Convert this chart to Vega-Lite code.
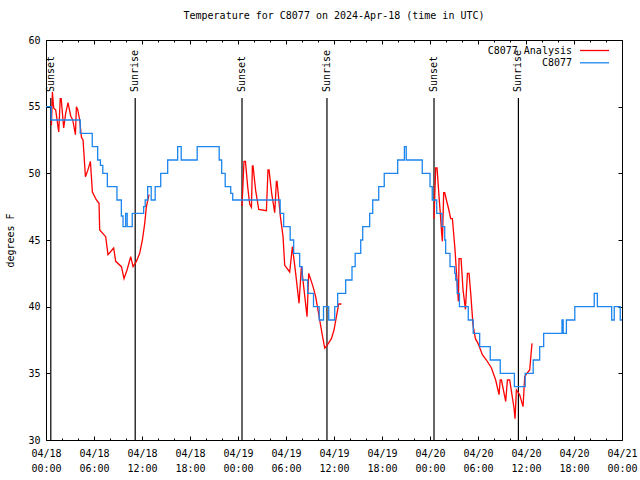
{
  "$schema": "https://vega.github.io/schema/vega-lite/v6.json",
  "autosize": {"type": "none"},
  "width": 576,
  "height": 400,
  "padding": {"left": 46, "top": 40, "right": 18, "bottom": 40},
  "title": {"text": "Temperature for C8077 on 2024-Apr-18 (time in UTC)", "font": "DejaVu Sans Mono", "fontSize": 10, "fontWeight": "normal", "offset": 14, "color": "black"},
  "config": {
    "font": "DejaVu Sans Mono",
    "view": {"stroke": "black", "strokeWidth": 1},
    "axis": {"grid": false, "domain": false, "tickColor": "black", "labelColor": "black", "labelFont": "DejaVu Sans Mono", "labelFontSize": 10, "titleFont": "DejaVu Sans Mono", "titleFontSize": 10, "titleFontWeight": "normal", "titleColor": "black", "labelOverlap": false, "labelFlush": false, "labelBound": false},
    "legend": {"title": null, "orient": "none", "legendX": 533, "symbolType": "stroke", "symbolSize": 841, "symbolStrokeWidth": 1.3, "labelAlign": "right", "labelOffset": -38, "labelFont": "DejaVu Sans Mono", "labelFontSize": 10, "labelColor": "black", "padding": 0}
  },
  "datasets": {
    "events": [
      {"hour": 0.6, "label": "Sunset"},
      {"hour": 11.15, "label": "Sunrise"},
      {"hour": 24.5, "label": "Sunset"},
      {"hour": 35.12, "label": "Sunrise"},
      {"hour": 48.5, "label": "Sunset"},
      {"hour": 59.05, "label": "Sunrise"}
    ],
    "analysis": [
      {"seg": 1, "hour": 0.68, "temp": 53.6}, {"seg": 1, "hour": 0.8, "temp": 56.1}, {"seg": 1, "hour": 0.96, "temp": 54.9}, {"seg": 1, "hour": 1.21, "temp": 54.75}, {"seg": 1, "hour": 1.59, "temp": 53.1}, {"seg": 1, "hour": 1.78, "temp": 55.6}, {"seg": 1, "hour": 1.9, "temp": 55.6}, {"seg": 1, "hour": 2.21, "temp": 53.4}, {"seg": 1, "hour": 2.46, "temp": 54.5}, {"seg": 1, "hour": 2.75, "temp": 55.3}, {"seg": 1, "hour": 3.09, "temp": 54.3}, {"seg": 1, "hour": 3.34, "temp": 54.0}, {"seg": 1, "hour": 3.68, "temp": 52.9}, {"seg": 1, "hour": 3.8, "temp": 55.0}, {"seg": 1, "hour": 3.96, "temp": 54.8}, {"seg": 1, "hour": 4.21, "temp": 54.0}, {"seg": 1, "hour": 4.43, "temp": 52.7}, {"seg": 1, "hour": 4.63, "temp": 52.5}, {"seg": 1, "hour": 4.93, "temp": 49.75}, {"seg": 1, "hour": 5.21, "temp": 50.2}, {"seg": 1, "hour": 5.55, "temp": 50.9}, {"seg": 1, "hour": 5.8, "temp": 48.6}, {"seg": 1, "hour": 6.3, "temp": 48.0}, {"seg": 1, "hour": 6.63, "temp": 47.75}, {"seg": 1, "hour": 6.71, "temp": 45.75}, {"seg": 1, "hour": 7.46, "temp": 45.25}, {"seg": 1, "hour": 7.75, "temp": 43.9}, {"seg": 1, "hour": 8.46, "temp": 44.4}, {"seg": 1, "hour": 8.71, "temp": 43.4}, {"seg": 1, "hour": 9.43, "temp": 43.0}, {"seg": 1, "hour": 9.75, "temp": 42.1}, {"seg": 1, "hour": 10.13, "temp": 42.75}, {"seg": 1, "hour": 10.59, "temp": 43.75}, {"seg": 1, "hour": 10.88, "temp": 43.0}, {"seg": 1, "hour": 11.3, "temp": 43.4}, {"seg": 1, "hour": 11.71, "temp": 44.0}, {"seg": 1, "hour": 12.05, "temp": 45.0}, {"seg": 1, "hour": 12.34, "temp": 46.25}, {"seg": 1, "hour": 12.55, "temp": 47.5}, {"seg": 1, "hour": 12.88, "temp": 48.4},
      {"seg": 2, "hour": 24.5, "temp": 47.55}, {"seg": 2, "hour": 24.75, "temp": 50.9}, {"seg": 2, "hour": 24.93, "temp": 50.9}, {"seg": 2, "hour": 25.21, "temp": 49.0}, {"seg": 2, "hour": 25.46, "temp": 47.7}, {"seg": 2, "hour": 25.68, "temp": 47.45}, {"seg": 2, "hour": 25.8, "temp": 50.55}, {"seg": 2, "hour": 25.88, "temp": 50.55}, {"seg": 2, "hour": 26.21, "temp": 48.7}, {"seg": 2, "hour": 26.59, "temp": 47.3}, {"seg": 2, "hour": 27.55, "temp": 47.2}, {"seg": 2, "hour": 27.75, "temp": 50.25}, {"seg": 2, "hour": 27.88, "temp": 50.25}, {"seg": 2, "hour": 28.21, "temp": 48.5}, {"seg": 2, "hour": 28.59, "temp": 47.05}, {"seg": 2, "hour": 28.8, "temp": 49.4}, {"seg": 2, "hour": 28.88, "temp": 49.4}, {"seg": 2, "hour": 29.3, "temp": 46.75}, {"seg": 2, "hour": 29.63, "temp": 45.25}, {"seg": 2, "hour": 29.84, "temp": 43.1}, {"seg": 2, "hour": 30.46, "temp": 42.6}, {"seg": 2, "hour": 30.8, "temp": 44.5}, {"seg": 2, "hour": 31.21, "temp": 42.5}, {"seg": 2, "hour": 31.63, "temp": 40.25}, {"seg": 2, "hour": 31.93, "temp": 43.05}, {"seg": 2, "hour": 32.21, "temp": 41.5}, {"seg": 2, "hour": 32.63, "temp": 39.25}, {"seg": 2, "hour": 32.84, "temp": 42.5}, {"seg": 2, "hour": 33.38, "temp": 41.5}, {"seg": 2, "hour": 33.71, "temp": 40.75}, {"seg": 2, "hour": 34.21, "temp": 39.0}, {"seg": 2, "hour": 34.5, "temp": 38.0}, {"seg": 2, "hour": 34.84, "temp": 36.9}, {"seg": 2, "hour": 35.13, "temp": 37.1}, {"seg": 2, "hour": 35.68, "temp": 37.6}, {"seg": 2, "hour": 36.0, "temp": 38.25}, {"seg": 2, "hour": 36.3, "temp": 39.25}, {"seg": 2, "hour": 36.59, "temp": 40.2}, {"seg": 2, "hour": 36.93, "temp": 40.2},
      {"seg": 3, "hour": 48.5, "temp": 46.6}, {"seg": 3, "hour": 48.71, "temp": 50.4}, {"seg": 3, "hour": 48.88, "temp": 50.4}, {"seg": 3, "hour": 49.13, "temp": 48.25}, {"seg": 3, "hour": 49.3, "temp": 46.9}, {"seg": 3, "hour": 49.46, "temp": 45.5}, {"seg": 3, "hour": 49.55, "temp": 44.9}, {"seg": 3, "hour": 49.71, "temp": 48.55}, {"seg": 3, "hour": 49.84, "temp": 48.55}, {"seg": 3, "hour": 50.05, "temp": 48.0}, {"seg": 3, "hour": 50.3, "temp": 47.4}, {"seg": 3, "hour": 50.59, "temp": 46.6}, {"seg": 3, "hour": 50.8, "temp": 46.6}, {"seg": 3, "hour": 51.13, "temp": 44.25}, {"seg": 3, "hour": 51.43, "temp": 41.4}, {"seg": 3, "hour": 51.55, "temp": 40.4}, {"seg": 3, "hour": 51.63, "temp": 43.6}, {"seg": 3, "hour": 51.88, "temp": 43.6}, {"seg": 3, "hour": 52.13, "temp": 41.25}, {"seg": 3, "hour": 52.43, "temp": 39.8}, {"seg": 3, "hour": 52.68, "temp": 42.5}, {"seg": 3, "hour": 52.88, "temp": 42.5}, {"seg": 3, "hour": 53.09, "temp": 41.0}, {"seg": 3, "hour": 53.38, "temp": 38.6}, {"seg": 3, "hour": 53.68, "temp": 37.6}, {"seg": 3, "hour": 54.0, "temp": 37.25}, {"seg": 3, "hour": 54.55, "temp": 36.4}, {"seg": 3, "hour": 55.05, "temp": 36.0}, {"seg": 3, "hour": 55.68, "temp": 35.4}, {"seg": 3, "hour": 56.21, "temp": 34.5}, {"seg": 3, "hour": 56.63, "temp": 33.4}, {"seg": 3, "hour": 56.78, "temp": 34.5}, {"seg": 3, "hour": 56.93, "temp": 34.5}, {"seg": 3, "hour": 57.46, "temp": 32.9}, {"seg": 3, "hour": 57.68, "temp": 34.5}, {"seg": 3, "hour": 57.96, "temp": 34.5}, {"seg": 3, "hour": 58.5, "temp": 32.4}, {"seg": 3, "hour": 58.63, "temp": 31.6}, {"seg": 3, "hour": 58.8, "temp": 33.75}, {"seg": 3, "hour": 59.21, "temp": 33.4}, {"seg": 3, "hour": 59.63, "temp": 32.5}, {"seg": 3, "hour": 59.84, "temp": 34.75}, {"seg": 3, "hour": 60.25, "temp": 35.1}, {"seg": 3, "hour": 60.46, "temp": 35.25}, {"seg": 3, "hour": 60.75, "temp": 37.25}
    ],
    "obs": [
      {"hour": 0, "temp": 55}, {"hour": 0.65, "temp": 54}, {"hour": 4.28, "temp": 53}, {"hour": 5.78, "temp": 52}, {"hour": 6.46, "temp": 51}, {"hour": 6.8, "temp": 50.6}, {"hour": 7.1, "temp": 50}, {"hour": 7.67, "temp": 49}, {"hour": 8.87, "temp": 48}, {"hour": 9.42, "temp": 46.8}, {"hour": 9.63, "temp": 46}, {"hour": 9.96, "temp": 47}, {"hour": 10.15, "temp": 46}, {"hour": 10.78, "temp": 47}, {"hour": 12.21, "temp": 47.5}, {"hour": 12.4, "temp": 48}, {"hour": 12.71, "temp": 49}, {"hour": 13.15, "temp": 48}, {"hour": 13.65, "temp": 49}, {"hour": 14.34, "temp": 50}, {"hour": 15.21, "temp": 51}, {"hour": 16.46, "temp": 52}, {"hour": 16.9, "temp": 51}, {"hour": 18.9, "temp": 52}, {"hour": 21.65, "temp": 51}, {"hour": 21.96, "temp": 50}, {"hour": 22.4, "temp": 49}, {"hour": 23.09, "temp": 48.5}, {"hour": 23.34, "temp": 48}, {"hour": 29.27, "temp": 47}, {"hour": 29.71, "temp": 46}, {"hour": 30.52, "temp": 45}, {"hour": 30.96, "temp": 44}, {"hour": 31.71, "temp": 43}, {"hour": 32.02, "temp": 42}, {"hour": 32.71, "temp": 41}, {"hour": 33.44, "temp": 40}, {"hour": 34.15, "temp": 39}, {"hour": 34.69, "temp": 40}, {"hour": 35.34, "temp": 39}, {"hour": 36.09, "temp": 40}, {"hour": 36.46, "temp": 41}, {"hour": 37.46, "temp": 42}, {"hour": 38.25, "temp": 43}, {"hour": 38.65, "temp": 44}, {"hour": 39.34, "temp": 45}, {"hour": 39.59, "temp": 46}, {"hour": 40.46, "temp": 47}, {"hour": 40.84, "temp": 48}, {"hour": 41.59, "temp": 49}, {"hour": 42.28, "temp": 50}, {"hour": 43.96, "temp": 51}, {"hour": 44.8, "temp": 52}, {"hour": 45.03, "temp": 51}, {"hour": 47.03, "temp": 50}, {"hour": 48.0, "temp": 49}, {"hour": 48.28, "temp": 48}, {"hour": 48.84, "temp": 47}, {"hour": 49.5, "temp": 46}, {"hour": 49.84, "temp": 45}, {"hour": 49.96, "temp": 44}, {"hour": 50.5, "temp": 43}, {"hour": 51.09, "temp": 42.5}, {"hour": 51.21, "temp": 42}, {"hour": 51.4, "temp": 41}, {"hour": 51.68, "temp": 40}, {"hour": 52.78, "temp": 39}, {"hour": 53.4, "temp": 38}, {"hour": 54.21, "temp": 37}, {"hour": 55.53, "temp": 36}, {"hour": 56.78, "temp": 35}, {"hour": 58.55, "temp": 34}, {"hour": 59.9, "temp": 35}, {"hour": 60.9, "temp": 36}, {"hour": 61.71, "temp": 37}, {"hour": 62.21, "temp": 38}, {"hour": 64.5, "temp": 39}, {"hour": 64.65, "temp": 38}, {"hour": 65.05, "temp": 39}, {"hour": 66.1, "temp": 40}, {"hour": 68.53, "temp": 41}, {"hour": 68.92, "temp": 40}, {"hour": 70.71, "temp": 39}, {"hour": 71.03, "temp": 40}, {"hour": 71.78, "temp": 39}, {"hour": 72, "temp": 39}
    ]
  },
  "resolve": {"axis": {"x": "independent", "y": "independent"}},
  "layer": [
    {
      "data": {"name": "events"},
      "mark": {"type": "rule", "color": "black", "strokeWidth": 1.2},
      "encoding": {
        "x": {"field": "hour", "type": "quantitative", "scale": {"domain": [0, 72], "nice": false, "zero": false},
              "axis": {"orient": "top", "values": [0, 6, 12, 18, 24, 30, 36, 42, 48, 54, 60, 66, 72], "labels": false, "tickSize": -4, "title": null}},
        "y": {"datum": 55.65, "type": "quantitative", "scale": {"domain": [30, 60], "nice": false, "zero": false},
              "axis": {"orient": "right", "values": [30, 35, 40, 45, 50, 55, 60], "labels": false, "tickSize": -4, "title": null}},
        "y2": {"datum": 30}
      }
    },
    {
      "data": {"name": "events"},
      "mark": {"type": "text", "angle": 270, "align": "left", "baseline": "middle", "font": "DejaVu Sans Mono", "fontSize": 10, "color": "black"},
      "encoding": {
        "x": {"field": "hour", "type": "quantitative",
              "axis": {"orient": "top", "values": [2, 4, 8, 10, 14, 16, 20, 22, 26, 28, 32, 34, 38, 40, 44, 46, 50, 52, 56, 58, 62, 64, 68, 70], "labels": false, "tickSize": -2, "title": null}},
        "y": {"datum": 56.1, "type": "quantitative", "axis": null},
        "text": {"field": "label"}
      }
    },
    {
      "data": {"name": "analysis"},
      "mark": {"type": "line", "strokeWidth": 1.3, "interpolate": "linear"},
      "encoding": {
        "x": {"field": "hour", "type": "quantitative",
              "axis": {"orient": "bottom", "values": [2, 4, 8, 10, 14, 16, 20, 22, 26, 28, 32, 34, 38, 40, 44, 46, 50, 52, 56, 58, 62, 64, 68, 70], "labels": false, "tickSize": -2, "title": null}},
        "y": {"field": "temp", "type": "quantitative", "axis": null},
        "detail": {"field": "seg", "type": "nominal"},
        "stroke": {"datum": "C8077 Analysis", "type": "nominal",
                   "scale": {"domain": ["C8077 Analysis"], "range": ["#ff0000"]},
                   "legend": {"legendY": -5}}
      }
    },
    {
      "data": {"name": "obs"},
      "mark": {"type": "line", "strokeWidth": 1.3, "interpolate": "step-after"},
      "encoding": {
        "x": {"field": "hour", "type": "quantitative",
              "axis": {"orient": "bottom", "values": [0, 6, 12, 18, 24, 30, 36, 42, 48, 54, 60, 66, 72], "tickSize": -4, "labelPadding": 12, "title": null, "labelLineHeight": 15,
                       "labelExpr": "['04/' + (18 + floor(datum.value / 24)), (datum.value % 24 < 10 ? '0' : '') + (datum.value % 24) + ':00']"}},
        "y": {"field": "temp", "type": "quantitative",
              "axis": {"orient": "left", "values": [30, 35, 40, 45, 50, 55, 60], "tickSize": -4, "labelPadding": 10, "title": "degrees F", "titlePadding": 12}},
        "color": {"datum": "C8077", "type": "nominal",
                  "scale": {"domain": ["C8077"], "range": ["#1c85ee"]},
                  "legend": {"legendY": 7.3}}
      }
    }
  ]
}
